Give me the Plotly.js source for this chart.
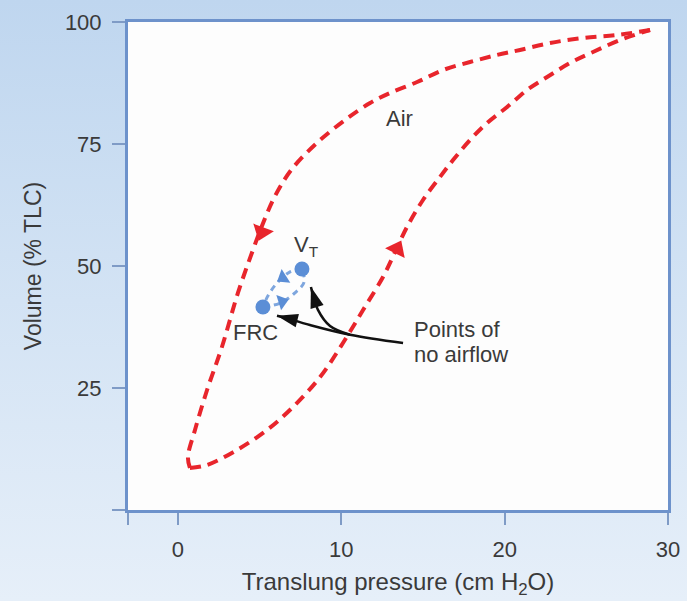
<!DOCTYPE html>
<html>
<head>
<meta charset="utf-8">
<script src="https://cdn.plot.ly/plotly-3.0.1.min.js"></script>
<style>
html,body{margin:0;padding:0;}
body{width:687px;height:601px;background:linear-gradient(to bottom,#bfd6ef 0%,#d3e3f4 50%,#e6eff9 100%);}
#chart{width:687px;height:601px;}
</style>
</head>
<body>
<div id="chart"></div>
<script>
// Deflation limb (upper/left), from TLC down to low volume
const deflX = [28.90, 26.88, 24.80, 22.78, 20.94, 19.53, 17.88, 16.23, 14.64, 12.98, 11.76, 10.23, 8.57, 6.98, 5.94, 5.14, 4.59, 3.67, 2.69, 1.78, 1.04, 0.61, 0.73];
const deflY = [98.36, 97.34, 96.72, 95.70, 94.26, 93.24, 91.80, 90.16, 87.70, 85.45, 83.40, 79.92, 75.41, 69.88, 64.34, 58.20, 53.28, 44.47, 33.40, 24.59, 16.39, 10.86, 8.61];
// Inflation limb (lower/right), from low volume up to TLC
const inflX = [0.73, 1.78, 3.61, 5.45, 7.04, 8.70, 10.10, 11.33, 12.55, 13.29, 14.02, 15.00, 16.04, 16.84, 17.88, 18.92, 20.15, 21.37, 22.60, 24.00, 25.41, 27.07, 28.90];
const inflY = [8.61, 9.22, 12.30, 16.39, 21.11, 27.25, 34.22, 40.98, 47.75, 52.87, 57.99, 63.52, 68.24, 71.72, 75.82, 79.30, 82.58, 86.07, 88.73, 91.60, 93.85, 96.31, 98.36];
// Direction arrows on the big loop (previous point, arrow point)
const deflArrowX = [5.94, 5.14];
const deflArrowY = [64.34, 57.0];
const inflArrowX = [12.55, 13.41];
const inflArrowY = [47.75, 53.5];
// Tidal loop
const frc = {x: 5.2, y: 41.6};
const vt = {x: 7.59, y: 49.4};
const tidalUpX = [5.2, 6.25, 7.16, 7.72, 7.59];
const tidalUpY = [41.6, 42.4, 44.5, 46.7, 49.4];
const tidalDownX = [7.59, 6.86, 6.06, 5.51, 5.2];
const tidalDownY = [49.4, 48.8, 46.5, 43.9, 41.6];
const tidalUpArrowX = [5.6, 6.37];
const tidalUpArrowY = [41.9, 42.7];
const tidalDownArrowX = [6.9, 6.43];
const tidalDownArrowY = [48.6, 47.6];
// Pointer arrows from "Points of no airflow"
const ptrFrcX = [13.78, 10.53, 8.08, 6.43, 6.06];
const ptrFrcY = [34.2, 35.9, 37.9, 39.5, 39.8];
const ptrVtX = [10.53, 9.31, 8.57, 8.14];
const ptrVtY = [35.9, 37.7, 41.0, 45.7];
// Axis ticks
const xTickVals = [-3.06, 0, 10, 20, 30];
const xTickText = ['', '0', '10', '20', '30'];
const yTickVals = [0, 25, 50, 75, 100];
const yTickText = ['', '25', '50', '75', '100'];

const RED = '#e8252c';
const BLUE = '#5b8ed6';
const BLUEL = '#7ea6de';
const FONT = 'Liberation Sans, Arial, Helvetica, sans-serif';
const TC = '#3a3a3a';

function arrowMarker(size, color, symbol) {
  return {symbol: symbol || 'triangle-up', size: [0, size], color: color, opacity: 1, line: {width: 0}, angleref: 'previous'};
}

const traces = [
  {x: deflX, y: deflY, mode: 'lines', line: {color: RED, width: 4, dash: '11px,7px', shape: 'spline', smoothing: 1}, hoverinfo: 'skip'},
  {x: inflX, y: inflY, mode: 'lines', line: {color: RED, width: 4, dash: '11px,7px', shape: 'spline', smoothing: 1}, hoverinfo: 'skip'},
  {x: deflArrowX, y: deflArrowY, mode: 'markers', marker: arrowMarker(19, RED), hoverinfo: 'skip'},
  {x: inflArrowX, y: inflArrowY, mode: 'markers', marker: arrowMarker(19, RED), hoverinfo: 'skip'},
  {x: tidalUpX, y: tidalUpY, mode: 'lines', line: {color: BLUEL, width: 3, dash: '6px,5px', shape: 'spline'}, hoverinfo: 'skip'},
  {x: tidalDownX, y: tidalDownY, mode: 'lines', line: {color: BLUEL, width: 3, dash: '6px,5px', shape: 'spline'}, hoverinfo: 'skip'},
  {x: tidalUpArrowX, y: tidalUpArrowY, mode: 'markers', marker: arrowMarker(14, BLUE), hoverinfo: 'skip'},
  {x: tidalDownArrowX, y: tidalDownArrowY, mode: 'markers', marker: arrowMarker(14, BLUE), hoverinfo: 'skip'},
  {x: [frc.x, vt.x], y: [frc.y, vt.y], mode: 'markers', marker: {size: 15, color: BLUE, opacity: 1, line: {width: 0}}, hoverinfo: 'skip'},
  {x: ptrFrcX, y: ptrFrcY, mode: 'lines', line: {color: '#111', width: 2.5, shape: 'spline'}, hoverinfo: 'skip'},
  {x: ptrVtX, y: ptrVtY, mode: 'lines', line: {color: '#111', width: 2.5, shape: 'spline'}, hoverinfo: 'skip'},
  {x: ptrFrcX.slice(-2), y: ptrFrcY.slice(-2), mode: 'markers', marker: arrowMarker(22, '#111', 'arrow'), hoverinfo: 'skip'},
  {x: ptrVtX.slice(-2), y: ptrVtY.slice(-2), mode: 'markers', marker: arrowMarker(22, '#111', 'arrow'), hoverinfo: 'skip'}
];

const txt = {family: FONT, size: 22, color: TC};
const layout = {
  width: 687, height: 601,
  margin: {l: 128, r: 19, t: 22, b: 91, pad: 0},
  paper_bgcolor: 'rgba(0,0,0,0)',
  plot_bgcolor: '#fdfdfd',
  showlegend: false,
  font: {family: FONT, color: TC},
  xaxis: {
    range: [-3.06, 30], tickmode: 'array', tickvals: xTickVals, ticktext: xTickText,
    showline: true, mirror: true, linecolor: '#6d92cb', linewidth: 3,
    ticks: 'outside', ticklen: 12, tickwidth: 2, tickcolor: '#7f9bc6',
    showgrid: false, zeroline: false, ticklabelstandoff: 6,
    tickfont: {family: FONT, size: 22, color: TC},
    title: {text: 'Translung pressure (cm H<sub>2</sub>O)', font: {family: FONT, size: 24, color: TC}, standoff: 12}
  },
  yaxis: {
    range: [0, 100], tickmode: 'array', tickvals: yTickVals, ticktext: yTickText,
    showline: true, mirror: true, linecolor: '#6d92cb', linewidth: 3,
    ticks: 'outside', ticklen: 13, tickwidth: 2, tickcolor: '#7f9bc6',
    showgrid: false, zeroline: false, ticklabelstandoff: 6,
    tickfont: {family: FONT, size: 22, color: TC},
    title: {text: 'Volume (% TLC)', font: {family: FONT, size: 23, color: TC}, standoff: 17}
  },
  annotations: [
    {x: 13.59, y: 80.3, text: 'Air', showarrow: false, font: txt},
    {x: 7.84, y: 54.1, text: 'V<sub>T</sub>', showarrow: false, font: txt},
    {x: 4.72, y: 36.3, text: 'FRC', showarrow: false, font: txt},
    {x: 14.33, y: 36.9, text: 'Points of', showarrow: false, xanchor: 'left', align: 'left', font: txt},
    {x: 14.33, y: 31.8, text: 'no airflow', showarrow: false, xanchor: 'left', align: 'left', font: txt}
  ]
};

Plotly.newPlot('chart', traces, layout, {displayModeBar: false, staticPlot: true});
</script>
</body>
</html>
